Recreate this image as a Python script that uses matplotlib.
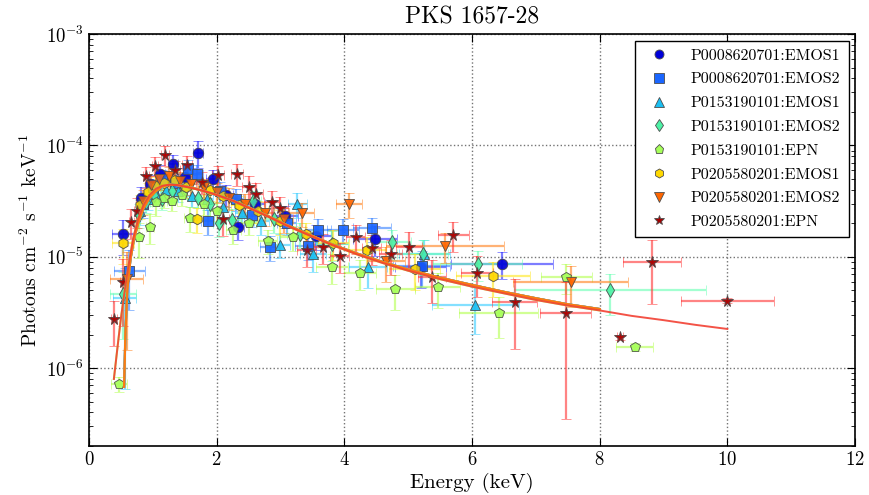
import matplotlib
matplotlib.use("Agg")
import matplotlib.pyplot as plt
from matplotlib.lines import Line2D

plt.rcParams['font.family'] = ['cmr10', 'DejaVu Serif']
plt.rcParams['mathtext.fontset'] = 'cm'
plt.rcParams['axes.unicode_minus'] = False
plt.rcParams['axes.formatter.use_mathtext'] = True

# --- spectra: energy (keV), half bin width, flux, relative flux error ---
names = ['P0008620701:EMOS1', 'P0008620701:EMOS2', 'P0153190101:EMOS1',
         'P0153190101:EMOS2', 'P0153190101:EPN', 'P0205580201:EMOS1',
         'P0205580201:EMOS2', 'P0205580201:EPN']

e1 = [0.53, 0.82, 0.95, 1.12, 1.32, 1.50, 1.71, 1.94, 2.15, 2.33, 2.60, 3.07, 3.55, 4.48, 5.20, 6.47]
de1 = [0.17, 0.05, 0.06, 0.07, 0.08, 0.09, 0.08, 0.10, 0.10, 0.10, 0.15, 0.20, 0.25, 0.35, 0.40, 0.80]
f1 = [1.6e-5, 3.4e-5, 4.5e-5, 5.6e-5, 6.8e-5, 5.2e-5, 8.6e-5, 5.0e-5, 3.6e-5, 1.87e-5, 3.0e-5, 2.34e-5, 1.55e-5, 1.45e-5, 8.1e-6, 8.7e-6]
r1 = [0.35, 0.25, 0.2, 0.2, 0.2, 0.2, 0.27, 0.2, 0.22, 0.25, 0.22, 0.22, 0.25, 0.3, 0.35, 0.28]

e2 = [0.63, 0.85, 1.00, 1.15, 1.35, 1.55, 1.69, 1.86, 2.05, 2.30, 2.55, 2.83, 3.10, 3.43, 3.59, 3.98, 4.43, 5.21]
de2 = [0.24, 0.05, 0.06, 0.07, 0.08, 0.08, 0.09, 0.10, 0.10, 0.12, 0.12, 0.15, 0.15, 0.20, 0.20, 0.25, 0.30, 0.45]
f2 = [7.4e-6, 3.0e-5, 4.2e-5, 5.0e-5, 4.6e-5, 6.2e-5, 5.6e-5, 2.1e-5, 3.9e-5, 3.3e-5, 2.4e-5, 1.23e-5, 2.0e-5, 1.25e-5, 1.74e-5, 1.74e-5, 1.8e-5, 8.3e-6]
r2 = [0.55, 0.25, 0.2, 0.2, 0.2, 0.2, 0.2, 0.25, 0.2, 0.22, 0.22, 0.25, 0.22, 0.25, 0.25, 0.25, 0.25, 0.35]

e3 = [0.56, 0.80, 0.92, 1.05, 1.20, 1.40, 1.62, 1.85, 2.10, 2.40, 2.70, 3.00, 3.26, 3.51, 4.37, 5.25, 6.05]
de3 = [0.18, 0.05, 0.06, 0.06, 0.07, 0.08, 0.09, 0.10, 0.10, 0.12, 0.12, 0.15, 0.15, 0.20, 0.30, 0.40, 0.68]
f3 = [4.3e-6, 2.6e-5, 3.3e-5, 3.7e-5, 4.0e-5, 3.9e-5, 3.5e-5, 3.3e-5, 2.8e-5, 2.5e-5, 2.1e-5, 1.29e-5, 3.0e-5, 1.05e-5, 8.1e-6, 1.05e-5, 3.7e-6]
r3 = [0.85, 0.25, 0.2, 0.2, 0.2, 0.2, 0.2, 0.2, 0.22, 0.22, 0.25, 0.25, 0.25, 0.3, 0.35, 0.35, 0.45]

e4 = [0.53, 0.78, 0.90, 1.02, 1.15, 1.30, 1.50, 1.70, 1.90, 2.04, 2.24, 2.57, 2.90, 3.30, 3.80, 4.75, 5.23, 6.09, 8.16]
de4 = [0.20, 0.05, 0.06, 0.06, 0.07, 0.08, 0.09, 0.10, 0.10, 0.10, 0.12, 0.12, 0.15, 0.20, 0.25, 0.30, 0.40, 0.70, 1.50]
f4 = [4.6e-6, 2.4e-5, 3.1e-5, 3.6e-5, 3.3e-5, 3.9e-5, 4.1e-5, 3.4e-5, 3.0e-5, 2.0e-5, 2.15e-5, 3.2e-5, 2.2e-5, 1.6e-5, 1.3e-5, 1.35e-5, 1.05e-5, 8.7e-6, 5.0e-6]
r4 = [0.6, 0.25, 0.2, 0.2, 0.2, 0.2, 0.2, 0.2, 0.22, 0.25, 0.25, 0.22, 0.25, 0.25, 0.3, 0.3, 0.35, 0.3, 0.4]

e5 = [0.47, 0.78, 0.96, 1.05, 1.18, 1.30, 1.45, 1.58, 1.80, 2.00, 2.26, 2.50, 2.80, 3.20, 3.80, 4.25, 4.80, 5.46, 6.42, 7.48, 8.55]
de5 = [0.13, 0.05, 0.06, 0.06, 0.07, 0.08, 0.08, 0.09, 0.10, 0.10, 0.12, 0.12, 0.15, 0.20, 0.25, 0.25, 0.31, 0.35, 0.62, 0.40, 0.29]
f5 = [7.2e-7, 1.5e-5, 1.85e-5, 3.1e-5, 3.4e-5, 3.2e-5, 3.6e-5, 2.25e-5, 3.0e-5, 2.6e-5, 1.74e-5, 2.0e-5, 1.4e-5, 1.5e-5, 8.1e-6, 7.2e-6, 5.1e-6, 5.35e-6, 3.1e-6, 6.6e-6, 1.55e-6]
r5 = [0.15, 0.35, 0.3, 0.25, 0.2, 0.2, 0.2, 0.25, 0.2, 0.2, 0.25, 0.22, 0.25, 0.25, 0.3, 0.3, 0.35, 0.35, 0.4, 0.3, 0.08]

e6 = [0.53, 0.80, 0.92, 1.05, 1.18, 1.35, 1.52, 1.69, 1.90, 2.10, 2.35, 2.65, 3.00, 3.40, 3.83, 4.35, 5.10, 6.33]
de6 = [0.17, 0.05, 0.06, 0.06, 0.07, 0.08, 0.09, 0.10, 0.10, 0.10, 0.12, 0.15, 0.15, 0.20, 0.25, 0.30, 0.40, 0.58]
f6 = [1.32e-5, 2.9e-5, 3.8e-5, 4.3e-5, 4.6e-5, 4.9e-5, 4.2e-5, 2.2e-5, 4.0e-5, 3.5e-5, 2.9e-5, 2.6e-5, 2.1e-5, 1.6e-5, 1.34e-5, 1.15e-5, 7.8e-6, 6.7e-6]
r6 = [0.35, 0.25, 0.2, 0.2, 0.2, 0.2, 0.2, 0.25, 0.2, 0.2, 0.22, 0.22, 0.25, 0.25, 0.3, 0.3, 0.35, 0.35]

e7 = [0.59, 0.84, 0.97, 1.10, 1.25, 1.42, 1.60, 1.80, 2.00, 2.20, 2.45, 2.75, 3.05, 3.33, 4.07, 4.65, 5.58, 7.55]
de7 = [0.26, 0.05, 0.06, 0.07, 0.08, 0.08, 0.09, 0.10, 0.10, 0.12, 0.12, 0.15, 0.15, 0.20, 0.20, 0.30, 0.92, 0.90]
f7 = [6.3e-6, 3.2e-5, 4.4e-5, 5.0e-5, 5.3e-5, 4.8e-5, 4.5e-5, 4.2e-5, 3.8e-5, 3.4e-5, 3.0e-5, 2.5e-5, 2.2e-5, 2.46e-5, 3.0e-5, 9.1e-6, 1.26e-5, 5.9e-6]
r7 = [0.77, 0.25, 0.2, 0.2, 0.2, 0.2, 0.2, 0.2, 0.2, 0.22, 0.22, 0.25, 0.25, 0.25, 0.25, 0.35, 0.3, 0.4]

e8 = [0.39, 0.53, 0.66, 0.75, 0.89, 1.03, 1.19, 1.35, 1.53, 1.77, 2.02, 2.10, 2.32, 2.50, 2.62, 2.86, 3.00,
      3.41, 3.67, 3.93, 4.18, 4.43, 4.73, 5.01, 5.37, 5.71, 6.08, 6.67, 7.47, 8.32, 8.82, 10.0]
de8 = [0.05, 0.05, 0.04, 0.04, 0.05, 0.05, 0.06, 0.07, 0.08, 0.09, 0.10, 0.10, 0.10, 0.10, 0.10, 0.12, 0.12,
       0.15, 0.15, 0.15, 0.15, 0.15, 0.18, 0.20, 0.22, 0.25, 0.25, 0.35, 0.40, 0.05, 0.45, 0.73]
f8 = [2.78e-6, 6.0e-6, 2.06e-5, 2.6e-5, 5.3e-5, 6.6e-5, 8.2e-5, 6.0e-5, 6.7e-5, 4.7e-5, 5.4e-5, 2.2e-5, 5.6e-5,
      4.25e-5, 3.7e-5, 3.1e-5, 2.77e-5, 1.15e-5, 1.23e-5, 1.02e-5, 1.5e-5, 1.2e-5, 1.05e-5, 1.23e-5, 6.6e-6,
      1.58e-5, 7.2e-6, 3.9e-6, 3.15e-6, 1.9e-6, 8.9e-6, 4.05e-6]
r8 = [0.43, 0.6, 0.3, 0.3, 0.22, 0.2, 0.2, 0.2, 0.2, 0.22, 0.22, 0.3, 0.22, 0.25, 0.25, 0.25, 0.25,
      0.3, 0.3, 0.3, 0.3, 0.3, 0.35, 0.35, 0.42, 0.3, 0.4, 0.62, 0.89, 0.05, 0.58, 0.05]

# --- fitted absorbed power-law models ---
model_e_mos = [0.55, 0.57, 0.60, 0.65, 0.70, 0.77, 0.85, 0.95, 1.05, 1.15, 1.27, 1.40, 1.60, 1.80, 2.00,
               2.25, 2.50, 2.80, 3.10, 3.40, 3.80, 4.20, 4.60, 5.00, 5.50, 6.00, 6.50, 7.00, 7.50, 8.00]
model_f_mos = [6.8e-7, 2.0e-6, 5.0e-6, 9.5e-6, 1.4e-5, 2.0e-5, 2.7e-5, 3.4e-5, 3.9e-5, 4.3e-5, 4.45e-5,
               4.4e-5, 4.2e-5, 3.9e-5, 3.6e-5, 3.2e-5, 2.78e-5, 2.33e-5, 1.93e-5, 1.63e-5, 1.3e-5, 1.07e-5,
               9.0e-6, 7.7e-6, 6.5e-6, 5.6e-6, 4.85e-6, 4.25e-6, 3.75e-6, 3.4e-6]
model_e_pn = [0.39, 0.45, 0.50, 0.56, 0.62, 0.69, 0.77, 0.85, 0.95, 1.05, 1.15, 1.27, 1.40, 1.60, 1.80,
              2.00, 2.25, 2.50, 2.80, 3.10, 3.40, 3.80, 4.20, 4.60, 5.00, 5.50, 6.00, 6.50, 7.00, 7.50,
              8.00, 8.50, 9.00, 9.50, 10.0]
model_f_pn = [8.0e-7, 1.6e-6, 2.8e-6, 5.0e-6, 8.5e-6, 1.45e-5, 2.2e-5, 2.9e-5, 3.6e-5, 4.1e-5, 4.35e-5,
              4.45e-5, 4.4e-5, 4.15e-5, 3.9e-5, 3.6e-5, 3.2e-5, 2.75e-5, 2.3e-5, 1.9e-5, 1.6e-5, 1.28e-5,
              1.05e-5, 8.8e-6, 7.5e-6, 6.3e-6, 5.4e-6, 4.7e-6, 4.1e-6, 3.65e-6, 3.3e-6, 2.95e-6, 2.7e-6,
              2.45e-6, 2.25e-6]

series = [(e1, de1, f1, r1), (e2, de2, f2, r2), (e3, de3, f3, r3), (e4, de4, f4, r4),
          (e5, de5, f5, r5), (e6, de6, f6, r6), (e7, de7, f7, r7), (e8, de8, f8, r8)]
markers = ['o', 's', '^', 'd', 'p', 'h', 'v', '*']
face = [(0.0, 0.0, 0.85), (0.1, 0.4, 1.0), (0.1, 0.75, 0.95), (0.3, 0.95, 0.65),
        (0.65, 1.0, 0.35), (1.0, 0.85, 0.0), (1.0, 0.4, 0.0), (0.65, 0.0, 0.0)]
ecol = [(0.15, 0.15, 1.0), (0.2, 0.5, 1.0), (0.2, 0.8, 1.0), (0.4, 1.0, 0.7),
        (0.7, 1.0, 0.3), (1.0, 0.9, 0.1), (1.0, 0.5, 0.1), (1.0, 0.2, 0.2)]
msizes = [7.5, 7.5, 7.5, 7.5, 7.5, 7.5, 7.5, 8.5]

fig = plt.figure(figsize=(8.69, 4.95), dpi=100)
ax = fig.add_axes([0.1024, 0.099, 0.8815, 0.832])

for i, (e, de, f, r) in enumerate(series):
    yerr = [fv * rv for fv, rv in zip(f, r)]
    ax.errorbar(e, f, xerr=de, yerr=yerr, fmt=markers[i], ms=msizes[i],
                mfc=face[i], mec=(0.3, 0.3, 0.3), mew=0.6, ecolor=ecol[i],
                elinewidth=1.6, capsize=3.5, capthick=1.3, alpha=0.6, zorder=2)
    ax.plot(e, f, markers[i], ms=msizes[i], mfc=face[i], mec=(0.3, 0.3, 0.3),
            mew=0.6, alpha=0.8, ls='none', zorder=3)

# model curves, MOS fits first, PN fit of the last observation on top
for i in [2, 3, 0, 1, 5]:
    ax.plot(model_e_mos, model_f_mos, color=ecol[i], lw=1.5, alpha=0.8, zorder=4)
pn_short = [k for k, v in enumerate(model_e_pn) if v <= 8.0]
ax.plot([model_e_pn[k] for k in pn_short], [model_f_pn[k] for k in pn_short],
        color=ecol[4], lw=1.5, alpha=0.8, zorder=4)
ax.plot(model_e_mos, model_f_mos, color=(1.0, 0.45, 0.05), lw=1.6, alpha=0.9, zorder=5)
ax.plot(model_e_pn, model_f_pn, color=(0.95, 0.25, 0.2), lw=1.4, alpha=0.9, zorder=5)

ax.set_yscale('log')
ax.set_xlim(0, 12)
ax.set_ylim(2e-7, 1e-3)
ax.set_xticks([0, 2, 4, 6, 8, 10, 12])
ax.grid(True, which='major', ls=':', color='0.45', lw=1.0)
ax.tick_params(which='both', direction='in', top=True, right=True, labelsize=13.5)
ax.tick_params(which='major', length=6)
ax.tick_params(which='minor', length=3)
for s in ax.spines.values():
    s.set_linewidth(1.2)

ax.set_title('PKS 1657-28', fontsize=17, pad=8)
ax.set_xlabel('Energy (keV)', fontsize=15, labelpad=3)
ax.set_ylabel(r'Photons cm$^{-2}$ s$^{-1}$ keV$^{-1}$', fontsize=14)

handles = [Line2D([], [], ls='none', marker=markers[i], ms=msizes[i] - 1, mfc=face[i],
                  mec=(0.3, 0.3, 0.3), mew=0.6) for i in range(8)]
leg = ax.legend(handles, names, loc='upper right', numpoints=1, fontsize=11.5,
                fancybox=False, framealpha=1, edgecolor='black',
                handletextpad=1.0, borderaxespad=0.4, labelspacing=0.6,
                borderpad=0.5)
leg.get_frame().set_linewidth(1.0)

fig.savefig('out.png', dpi=100)
